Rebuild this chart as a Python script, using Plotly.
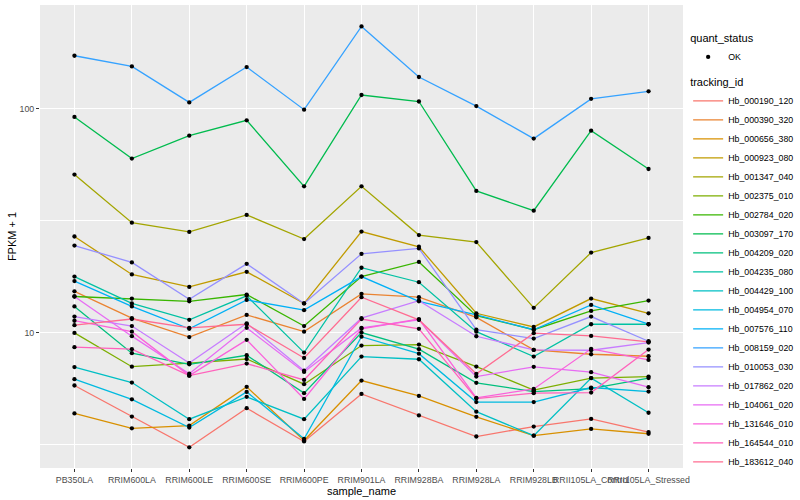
import plotly.graph_objects as go

samples = ["PB350LA", "RRIM600LA", "RRIM600LE", "RRIM600SE", "RRIM600PE", "RRIM901LA",
           "RRIM928BA", "RRIM928LA", "RRIM928LB", "RRII105LA_Control", "RRII105LA_Stressed"]

tracking_ids = ["Hb_000190_120", "Hb_000390_320", "Hb_000656_380", "Hb_000923_080",
                "Hb_001347_040", "Hb_002375_010", "Hb_002784_020", "Hb_003097_170",
                "Hb_004209_020", "Hb_004235_080", "Hb_004429_100", "Hb_004954_070",
                "Hb_007576_110", "Hb_008159_020", "Hb_010053_030", "Hb_017862_020",
                "Hb_104061_020", "Hb_131646_010", "Hb_164544_010", "Hb_183612_040"]

colors = ["#F8766D", "#EA8331", "#D89000", "#C09B00", "#A3A500", "#7CAE00", "#39B600",
          "#00BB4E", "#00BF7D", "#00C1A3", "#00BFC4", "#00BAE0", "#00B0F6", "#35A2FF",
          "#9590FF", "#C77CFF", "#E76BF3", "#FA62DB", "#FF62BC", "#FF6C91"]

# FPKM + 1 per sample, one list per tracking_id
hb_000190_120 = [5.80, 4.21, 3.07, 4.59, 3.26, 5.32, 4.26, 3.43, 3.80, 4.11, 3.59]
hb_000390_320 = [15.3, 11.6, 9.55, 12.0, 10.1, 14.9, 14.4, 11.7, 8.37, 8.00, 7.84]
hb_000656_380 = [4.35, 3.73, 3.84, 5.72, 3.29, 6.10, 5.21, 4.20, 3.46, 3.71, 3.53]
hb_000923_080 = [26.9, 18.2, 16.0, 18.7, 13.5, 28.3, 24.2, 12.2, 10.6, 14.2, 12.2]
hb_001347_040 = [50.9, 31.0, 28.2, 33.6, 26.2, 45.1, 27.3, 25.4, 12.9, 22.8, 26.5]
hb_002375_010 = [9.97, 7.04, 7.31, 7.62, 5.88, 8.75, 8.84, 7.05, 5.53, 6.26, 6.36]
hb_002784_020 = [14.5, 14.2, 13.8, 14.8, 10.7, 17.8, 20.7, 11.9, 10.3, 12.5, 13.9]
hb_003097_170 = [92.1, 60.0, 76.0, 89.0, 45.1, 115.5, 108.0, 43.0, 35.1, 80.0, 53.9]
hb_004209_020 = [13.1, 8.09, 7.21, 7.92, 5.36, 10.0, 8.43, 5.96, 5.45, 5.62, 6.26]
hb_004235_080 = [17.8, 13.5, 11.4, 14.6, 8.14, 19.5, 16.8, 10.1, 7.81, 10.9, 10.9]
hb_004429_100 = [7.01, 5.98, 4.10, 5.16, 4.10, 7.81, 7.60, 4.43, 3.46, 6.26, 4.38]
hb_004954_070 = [6.19, 5.03, 3.76, 5.43, 3.35, 9.59, 8.05, 4.89, 4.89, 5.68, 5.45]
hb_007576_110 = [17.0, 13.1, 10.4, 14.0, 12.6, 17.8, 13.8, 12.0, 10.3, 13.3, 10.9]
hb_008159_020 = [173.0, 155.0, 107.0, 154.0, 99.3, 234.0, 139.0, 103.0, 73.7, 111.0, 120.0]
hb_010053_030 = [24.5, 20.6, 14.1, 20.3, 13.5, 22.5, 23.8, 10.3, 9.40, 11.8, 9.15]
hb_017862_020 = [11.8, 10.7, 7.31, 11.0, 6.76, 11.6, 13.9, 9.63, 8.37, 8.34, 9.02]
hb_104061_020 = [14.5, 9.64, 6.55, 10.5, 6.67, 10.5, 11.4, 6.36, 7.03, 6.65, 5.70]
hb_131646_010 = [11.3, 10.1, 6.42, 9.28, 5.05, 10.4, 11.5, 5.11, 5.60, 8.46, 7.55]
hb_164544_010 = [8.61, 8.43, 6.42, 7.27, 6.14, 11.5, 10.4, 5.07, 5.36, 5.39, 8.40]
hb_183612_040 = [10.8, 11.5, 10.5, 10.9, 7.70, 14.4, 11.4, 6.54, 9.94, 9.66, 9.09]

series = [hb_000190_120, hb_000390_320, hb_000656_380, hb_000923_080, hb_001347_040,
          hb_002375_010, hb_002784_020, hb_003097_170, hb_004209_020, hb_004235_080,
          hb_004429_100, hb_004954_070, hb_007576_110, hb_008159_020, hb_010053_030,
          hb_017862_020, hb_104061_020, hb_131646_010, hb_164544_010, hb_183612_040]

quant_status = ["OK"]
y_major_ticks = [10, 100]
y_major_text = ["10", "100"]
y_minor_ticks = [3.1623, 31.623]

FONT = "Liberation Sans, Arial, sans-serif"

fig = go.Figure()
for tid, col, vals in zip(tracking_ids, colors, series):
    fig.add_trace(go.Scatter(
        x=samples, y=vals, mode="lines", name=tid,
        line=dict(color=col, width=1.3), legend="legend",
    ))

all_x = [s for vals in series for s in samples]
all_y = [v for vals in series for v in vals]
fig.add_trace(go.Scatter(
    x=all_x, y=all_y, mode="markers", name=quant_status[0],
    marker=dict(color="black", size=4.3, symbol="circle"),
    legend="legend2",
))

fig.update_layout(
    width=800, height=500,
    margin=dict(l=40, r=117, t=5, b=32, autoexpand=False),
    paper_bgcolor="white", plot_bgcolor="#EBEBEB",
    font=dict(family=FONT, size=11, color="black"),
    xaxis=dict(
        type="category", categoryorder="array", categoryarray=samples,
        range=[-0.6, len(samples) - 0.4],
        showgrid=True, gridcolor="white", gridwidth=1.2,
        ticks="outside", ticklen=3, tickcolor="#333333", tickwidth=1,
        tickangle=0, tickfont=dict(size=8.8, color="#4D4D4D"),
        title=dict(text="sample_name", font=dict(size=11, color="black"), standoff=2),
        zeroline=False, showline=False,
    ),
    yaxis=dict(
        type="log", range=[0.3945, 2.465],
        tickmode="array", tickvals=y_major_ticks, ticktext=y_major_text,
        showgrid=True, gridcolor="white", gridwidth=1.2,
        ticks="outside", ticklen=3, tickcolor="#333333", tickwidth=1,
        tickfont=dict(size=8.8, color="#4D4D4D"),
        minor=dict(tickmode="array", tickvals=y_minor_ticks, showgrid=True,
                   gridcolor="white", gridwidth=0.6, ticklen=0),
        title=dict(text="FPKM + 1", font=dict(size=11, color="black"), standoff=0),
        zeroline=False, showline=False,
    ),
    legend2=dict(
        title=dict(text="quant_status", font=dict(size=11)),
        x=1.008, xanchor="left", y=0.95, yanchor="top",
        font=dict(size=8.8), bgcolor="rgba(0,0,0,0)", itemwidth=30,
    ),
    legend=dict(
        title=dict(text="tracking_id", font=dict(size=11)),
        x=1.008, xanchor="left", y=0.855, yanchor="top",
        font=dict(size=8.8), bgcolor="rgba(0,0,0,0)", itemwidth=30,
        tracegroupgap=0,
    ),
)

fig.write_html(
    "out.html",
    config={"displayModeBar": False},
    post_script="document.body.style.margin='0';document.body.style.padding='0';document.body.style.overflow='hidden';",
)
